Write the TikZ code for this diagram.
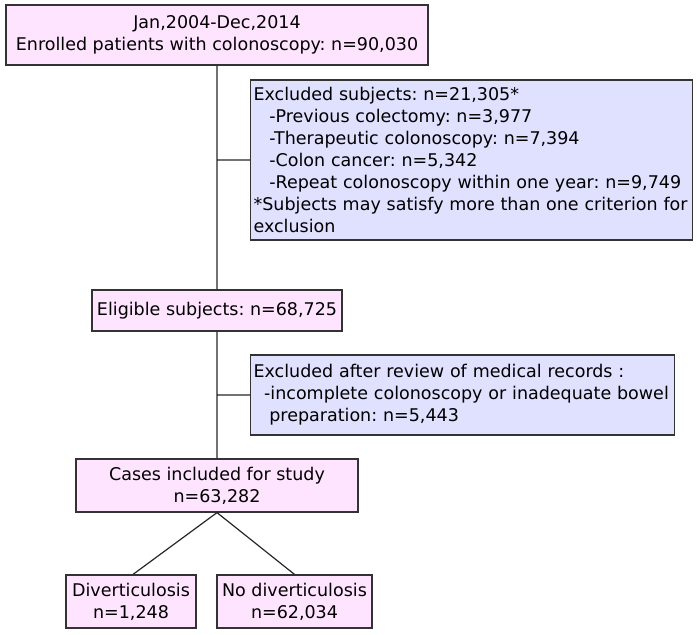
\documentclass[tikz,border=0pt]{standalone}
\usepackage{fontspec}
\setmainfont{DejaVu Sans}
\usepackage{tikz}
\usetikzlibrary{positioning}

\definecolor{boxpink}{RGB}{255,228,255}
\definecolor{boxblue}{RGB}{224,224,255}

\begin{document}
\frenchspacing
\begin{tikzpicture}[x=1pt,y=-1pt,
        every node/.style={font=\fontsize{17.5}{22}\selectfont},
        pinkbox/.style={draw=black!80, line width=1.2pt, fill=boxpink, align=center, inner sep=2pt},
        bluebox/.style={draw=black!80, line width=1.2pt, fill=boxblue, align=left, inner sep=3pt, anchor=west},
        link/.style={draw=black!85, line width=1.2pt}]
        \useasboundingbox (0,0) rectangle (697,635);
        \node[pinkbox, minimum width=422pt, minimum height=60pt] (start) at (217,35)
            {Jan,2004-Dec,2014\\Enrolled patients with colonoscopy: n=90,030};
        \node[bluebox, minimum width=442pt, minimum height=160pt, text width=436pt] (excl1) at (250,160)
            {Excluded subjects: n=21,305*\\
            \hspace*{0.9em}-Previous colectomy: n=3,977\\
            \hspace*{0.9em}-Therapeutic colonoscopy: n=7,394\\
            \hspace*{0.9em}-Colon cancer: n=5,342\\
            \hspace*{0.9em}-Repeat colonoscopy within one year: n=9,749\\
            {*}Subjects may satisfy more than one criterion for\\exclusion};
        \node[pinkbox, minimum width=250pt, minimum height=41pt] (elig) at (217,310.5)
            {Eligible subjects: n=68,725};
        \node[bluebox, minimum width=424pt, minimum height=80pt, text width=418pt] (excl2) at (250,395)
            {Excluded after review of medical records :\\
            \hspace*{0.6em}-incomplete colonoscopy or inadequate bowel\\
            \hspace*{0.9em}preparation: n=5,443};
        \node[pinkbox, minimum width=282pt, minimum height=53pt] (cases) at (217,485.5)
            {Cases included for study\\n=63,282};
        \node[pinkbox, minimum width=130pt, minimum height=53pt] (div) at (131,601.5)
            {Diverticulosis\\n=1,248};
        \node[pinkbox, minimum width=155pt, minimum height=53pt] (nodiv) at (294.5,601.5)
            {No diverticulosis\\n=62,034};

        \path[link] (start.south) -- (elig.north)
        (excl1.west -| start.south) -- (excl1.west)
        (elig.south) -- (cases.north)
        (excl2.west -| elig.south) -- (excl2.west)
        (cases.south) -- ([xshift=2pt]div.north)
        (cases.south) -- (nodiv.north);
    \end{tikzpicture}
\end{document}
